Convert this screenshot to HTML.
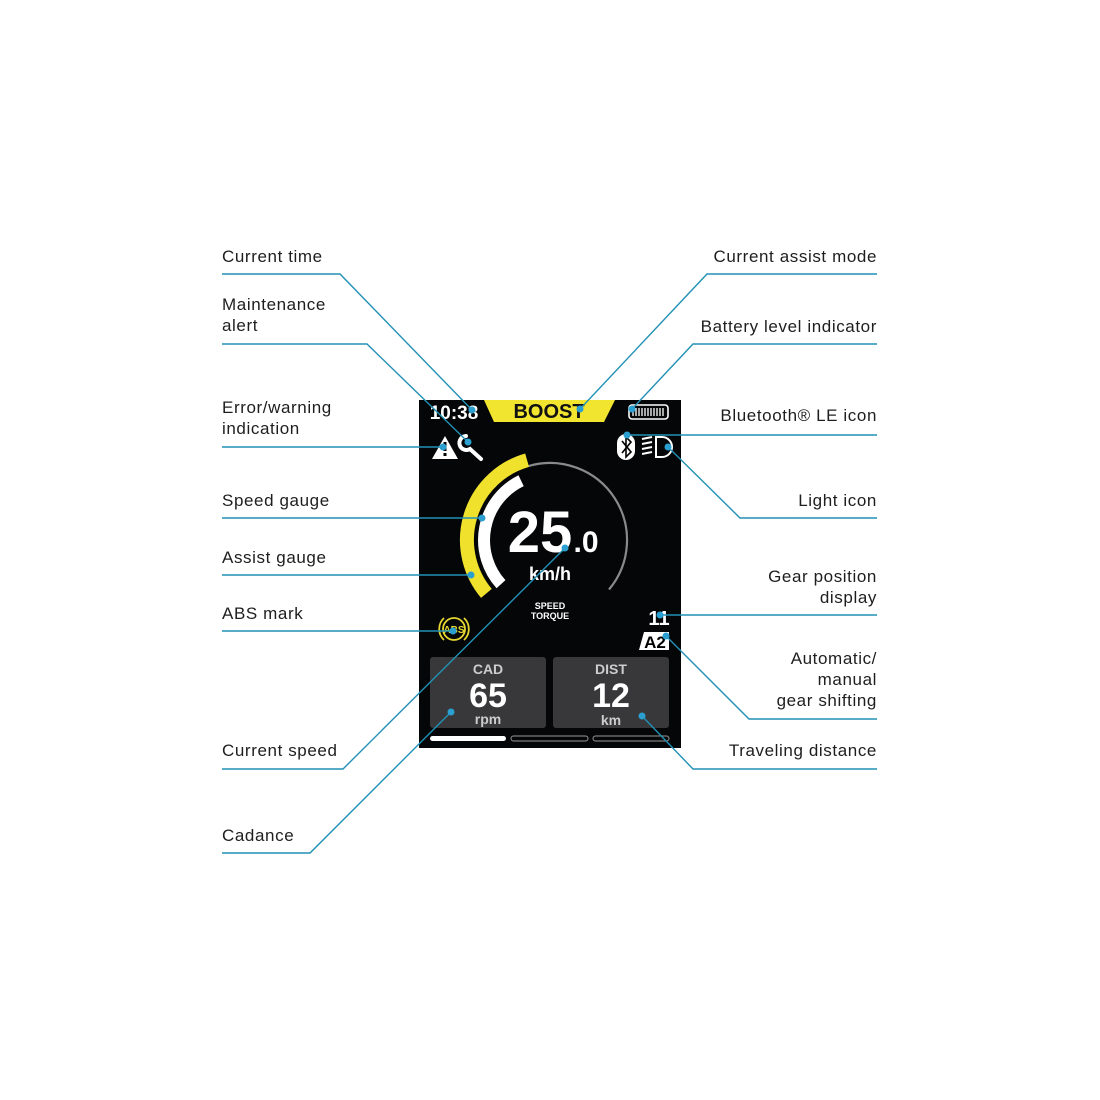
<!DOCTYPE html>
<html><head><meta charset="utf-8"><style>
html,body{margin:0;padding:0;background:#fff;}
svg{display:block;}
.lb{font-family:"Liberation Sans",sans-serif;font-size:17px;fill:#1e1e1e;letter-spacing:0.6px;}
.ln{stroke:#2291b5;stroke-width:1.4;fill:none;}
.dt{fill:#2a9fd0;}
.w{font-family:"Liberation Sans",sans-serif;font-weight:bold;fill:#fff;}
</style></head><body>
<svg width="1100" height="1100" viewBox="0 0 1100 1100" xmlns="http://www.w3.org/2000/svg">
<rect x="419" y="400" width="262" height="348" fill="#050608"/>
<polygon points="484,400 615,400 604,422 494,422" fill="#f2e530"/>
<text x="549" y="418" text-anchor="middle" font-family="Liberation Sans,sans-serif" font-weight="bold" font-size="20" fill="#111">BOOST</text>
<text x="454" y="419" text-anchor="middle" class="w" font-size="19">10:38</text>
<rect x="629" y="405" width="39" height="14" rx="3" fill="none" stroke="#fff" stroke-width="1.6"/>
<g stroke="#fff" stroke-width="1.3"><line x1="633" y1="408" x2="633" y2="416"/><line x1="636" y1="408" x2="636" y2="416"/><line x1="639" y1="408" x2="639" y2="416"/><line x1="642" y1="408" x2="642" y2="416"/><line x1="645" y1="408" x2="645" y2="416"/><line x1="648" y1="408" x2="648" y2="416"/><line x1="651" y1="408" x2="651" y2="416"/><line x1="654" y1="408" x2="654" y2="416"/><line x1="657" y1="408" x2="657" y2="416"/><line x1="660" y1="408" x2="660" y2="416"/><line x1="663" y1="408" x2="663" y2="416"/></g>
<rect x="617" y="434" width="18" height="26" rx="9" fill="#fff"/>
<path d="M622,441 L631,452 L626,457 L626,437 L631,442 L622,453" stroke="#000" stroke-width="1.6" fill="none"/>
<path d="M656,437 L662,437 A10,10 0 0 1 662,457 L656,457 Z" fill="none" stroke="#fff" stroke-width="2"/>
<g stroke="#fff" stroke-width="2"><line x1="642" y1="439" x2="652" y2="437"/><line x1="642" y1="444" x2="652" y2="442"/><line x1="642" y1="449" x2="652" y2="447"/><line x1="642" y1="454" x2="652" y2="452"/></g>
<polygon points="445,436 458,459 432,459" fill="#fff"/>
<rect x="443.5" y="442" width="3" height="9" fill="#000"/><rect x="443.5" y="453" width="3" height="3" fill="#000"/>
<path d="M466,436 A7,7 0 1 0 470,449 L481,459" stroke="#fff" stroke-width="4" fill="none" stroke-linecap="round"/>
<path d="M528.7,466 A77,77 0 0 1 609,589.5" stroke="#8a8a8a" stroke-width="2.2" fill="none"/>
<path d="M527.1,460.2 A83,83 0 0 0 486.4,593.4" stroke="#f0e22c" stroke-width="14" fill="none"/>
<path d="M521.1,480.7 A66,66 0 0 0 501,584.2" stroke="#fff" stroke-width="12" fill="none"/>
<text x="540" y="552" text-anchor="middle" class="w" font-size="58">25</text>
<text x="586" y="552" text-anchor="middle" class="w" font-size="30">.0</text>
<text x="550" y="580" text-anchor="middle" class="w" font-size="18">km/h</text>
<text x="550" y="609" text-anchor="middle" class="w" font-size="9">SPEED</text>
<text x="550" y="619" text-anchor="middle" class="w" font-size="9">TORQUE</text>
<circle cx="454" cy="629" r="11" fill="none" stroke="#e6d830" stroke-width="1.8"/>
<path d="M444,618 A15,15 0 0 0 444,640 M464,618 A15,15 0 0 1 464,640" fill="none" stroke="#e6d830" stroke-width="1.8"/>
<text x="454" y="633" text-anchor="middle" font-family="Liberation Sans,sans-serif" font-weight="bold" font-size="10" fill="#e6d830">ABS</text>
<text x="659" y="625" text-anchor="middle" class="w" font-size="20">11</text>
<polygon points="644,632 669,632 669,650 639,650" fill="#fff"/>
<text x="655" y="648" text-anchor="middle" font-family="Liberation Sans,sans-serif" font-weight="bold" font-size="17" fill="#000">A2</text>
<rect x="430" y="657" width="116" height="71" rx="3" fill="#38383b"/>
<rect x="553" y="657" width="116" height="71" rx="3" fill="#38383b"/>
<text x="488" y="674" text-anchor="middle" font-family="Liberation Sans,sans-serif" font-weight="bold" font-size="14" fill="#ccc">CAD</text>
<text x="488" y="707" text-anchor="middle" class="w" font-size="34">65</text>
<text x="488" y="724" text-anchor="middle" font-family="Liberation Sans,sans-serif" font-weight="bold" font-size="14" fill="#ccc">rpm</text>
<text x="611" y="674" text-anchor="middle" font-family="Liberation Sans,sans-serif" font-weight="bold" font-size="14" fill="#ccc">DIST</text>
<text x="611" y="707" text-anchor="middle" class="w" font-size="34">12</text>
<text x="611" y="725" text-anchor="middle" font-family="Liberation Sans,sans-serif" font-weight="bold" font-size="14" fill="#ccc">km</text>
<rect x="430" y="736" width="76" height="5" rx="2.5" fill="#fff"/>
<rect x="511" y="736" width="77" height="5" rx="2.5" fill="none" stroke="#999" stroke-width="1"/>
<rect x="593" y="736" width="76" height="5" rx="2.5" fill="none" stroke="#999" stroke-width="1"/>
<polyline class="ln" points="222,274 340,274 472,410"/>
<polyline class="ln" points="222,344 367,344 468,442"/>
<polyline class="ln" points="222,447 443,447"/>
<polyline class="ln" points="222,518 482,518"/>
<polyline class="ln" points="222,575 471,575"/>
<polyline class="ln" points="222,631 453,631"/>
<polyline class="ln" points="222,769 343,769 565,548"/>
<polyline class="ln" points="222,853 310,853 451,712"/>
<polyline class="ln" points="877,274 707,274 580,409"/>
<polyline class="ln" points="877,344 693,344 632,409"/>
<polyline class="ln" points="877,435 627,435"/>
<polyline class="ln" points="877,518 740,518 668,447"/>
<polyline class="ln" points="877,615 660,615"/>
<polyline class="ln" points="877,719 749,719 666,636"/>
<polyline class="ln" points="877,769 693,769 642,716"/>
<g class="dt">
<circle cx="472" cy="410" r="3.5"/><circle cx="468" cy="442" r="3.5"/><circle cx="443" cy="447" r="3.5"/>
<circle cx="482" cy="518" r="3.5"/><circle cx="471" cy="575" r="3.5"/><circle cx="453" cy="631" r="3.5"/>
<circle cx="565" cy="548" r="3.5"/><circle cx="451" cy="712" r="3.5"/><circle cx="580" cy="409" r="3.5"/>
<circle cx="632" cy="409" r="3.5"/><circle cx="627" cy="435" r="3.5"/><circle cx="668" cy="447" r="3.5"/>
<circle cx="660" cy="615" r="3.5"/><circle cx="666" cy="636" r="3.5"/><circle cx="642" cy="716" r="3.5"/>
</g>
<text class="lb" x="222" y="262">Current time</text>
<text class="lb" x="222" y="310">Maintenance</text>
<text class="lb" x="222" y="331">alert</text>
<text class="lb" x="222" y="413">Error/warning</text>
<text class="lb" x="222" y="434">indication</text>
<text class="lb" x="222" y="506">Speed gauge</text>
<text class="lb" x="222" y="563">Assist gauge</text>
<text class="lb" x="222" y="619">ABS mark</text>
<text class="lb" x="222" y="756">Current speed</text>
<text class="lb" x="222" y="841">Cadance</text>
<g text-anchor="end">
<text class="lb" x="877" y="262">Current assist mode</text>
<text class="lb" x="877" y="332">Battery level indicator</text>
<text class="lb" x="877" y="421">Bluetooth® LE icon</text>
<text class="lb" x="877" y="506">Light icon</text>
<text class="lb" x="877" y="582">Gear position</text>
<text class="lb" x="877" y="603">display</text>
<text class="lb" x="877" y="664">Automatic/</text>
<text class="lb" x="877" y="685">manual</text>
<text class="lb" x="877" y="706">gear shifting</text>
<text class="lb" x="877" y="756">Traveling distance</text>
</g>
</svg>
</body></html>
